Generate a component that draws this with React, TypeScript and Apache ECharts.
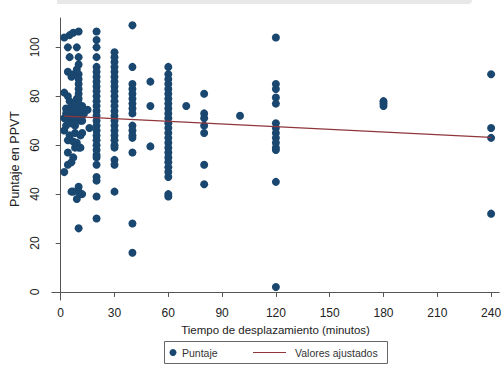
import React, { useEffect, useRef } from "react";
import * as echarts from "echarts";

// Travel time (minutes) and the PPVT scores observed at each time.
const scoresAt2 = [104, 81.5, 71, 66, 49];
const scoresAt3 = [75, 73, 68];
const scoresAt4 = [100, 90, 80, 62, 57, 52];
const scoresAt5 = [105, 96, 78, 74, 72, 70.5, 64];
const scoresAt6 = [88, 76, 69, 53, 41];
const scoresAt7 = [106, 89, 73, 61.5, 55, 41];
const scoresAt8 = [77, 74, 71, 68, 65, 59];
const scoresAt9 = [100, 91, 79, 61, 38];
const scoresAt10 = [106.5, 96, 93, 89, 87, 85, 83, 81, 79, 77, 75, 73, 71, 59, 43, 41, 26];
const scoresAt11 = [70, 64, 59, 40];
const scoresAt12 = [76, 72, 70, 65, 40];
const scoresAt13 = [73];
const scoresAt15 = [74.5];
const scoresAt16 = [67];
const scoresAt20 = [106.5, 103, 100, 96, 92, 90, 88, 86, 84, 82, 80, 78, 76, 74, 72, 70, 68, 66, 64, 62, 60, 58, 56, 55, 52, 47, 45.5, 39, 30];
const scoresAt30 = [98, 96, 94, 92, 90, 88, 86, 84, 82, 80, 78, 76, 74, 72, 70, 68, 66, 64, 62, 60, 59, 54, 52, 41];
const scoresAt40 = [109, 92, 85, 83, 81, 79, 77, 75, 73, 68, 66, 64, 63, 57, 28, 16];
const scoresAt50 = [86, 76, 59.5];
const scoresAt60 = [92, 89, 87, 85, 83, 81, 79, 77, 75, 73, 71, 69, 67, 65, 63, 61, 59, 57, 55, 53, 51, 49, 47, 40, 39];
const scoresAt70 = [76];
const scoresAt80 = [81, 73, 71, 68, 65, 52, 44];
const scoresAt100 = [72];
const scoresAt120 = [104, 85, 83, 79.5, 77, 69, 67, 65, 63, 61, 59, 58, 45, 2];
const scoresAt180 = [78, 77, 76];
const scoresAt240 = [89, 67, 63, 32];

const observations: [number, number[]][] = [
  [2, scoresAt2], [3, scoresAt3], [4, scoresAt4], [5, scoresAt5], [6, scoresAt6], [7, scoresAt7],
  [8, scoresAt8], [9, scoresAt9], [10, scoresAt10], [11, scoresAt11], [12, scoresAt12],
  [13, scoresAt13], [15, scoresAt15], [16, scoresAt16], [20, scoresAt20], [30, scoresAt30],
  [40, scoresAt40], [50, scoresAt50], [60, scoresAt60], [70, scoresAt70], [80, scoresAt80],
  [100, scoresAt100], [120, scoresAt120], [180, scoresAt180], [240, scoresAt240],
];

// Fitted regression line endpoints (minutes, predicted score)
const fittedLine: [number, number][] = [[2, 71.9], [240, 63.2]];

const xTicks = [0, 30, 60, 90, 120, 150, 180, 210, 240];
const yTicks = [0, 20, 40, 60, 80, 100];

const NAVY = "#1a476f";
const MAROON = "#90353b";
const AXIS = "#555555";
const FONT = "'Liberation Sans', Arial, sans-serif";

export default function App() {
  const ref = useRef<HTMLDivElement>(null);

  useEffect(() => {
    if (!ref.current) return;
    const chart = echarts.init(ref.current, undefined, { renderer: "svg" });
    const points: [number, number][] = [];
    observations.forEach(([t, scores]) => scores.forEach((s) => points.push([t, s])));

    chart.setOption({
      animation: false,
      backgroundColor: "#ffffff",
      textStyle: { fontFamily: FONT },
      grid: { left: 46, top: 18, width: 458, height: 282, containLabel: false },
      xAxis: {
        type: "value",
        min: -4.9,
        max: 244.5,
        name: "Tiempo de desplazamiento (minutos)",
        nameLocation: "middle",
        nameGap: 21,
        nameTextStyle: { fontSize: 11.5, color: "#222", fontFamily: FONT },
        axisLine: { show: true, lineStyle: { color: AXIS, width: 1 } },
        axisTick: { show: true, length: 5, lineStyle: { color: AXIS }, customValues: xTicks },
        axisLabel: { customValues: xTicks, fontSize: 12, color: "#222", margin: 7, fontFamily: FONT, showMaxLabel: true },
        splitLine: { show: false },
      },
      yAxis: {
        type: "value",
        min: -3.3,
        max: 112,
        name: "Puntaje en PPVT",
        nameLocation: "middle",
        nameGap: 21,
        nameRotate: 90,
        nameTextStyle: { fontSize: 12.5, color: "#222", fontFamily: FONT },
        axisLine: { show: true, lineStyle: { color: AXIS, width: 1 } },
        axisTick: { show: true, length: 5, lineStyle: { color: AXIS }, customValues: yTicks },
        axisLabel: { customValues: yTicks, fontSize: 12, color: "#222", rotate: 90, margin: 11, fontFamily: FONT },
        splitLine: { show: false },
      },
      series: [
        {
          name: "Puntaje",
          type: "scatter",
          data: points,
          symbol: "circle",
          symbolSize: 8,
          itemStyle: { color: NAVY, opacity: 1 },
        },
        {
          name: "Valores ajustados",
          type: "line",
          data: fittedLine,
          symbol: "none",
          lineStyle: { color: MAROON, width: 1.2 },
          z: 3,
        },
      ],
      graphic: [
        {
          type: "rect",
          shape: { x: 57, y: 0, width: 415, height: 4, r: [0, 0, 4, 0] },
          style: { fill: "#e8e8e8" },
          silent: true,
        },
        {
          type: "group",
          children: [
            {
              type: "rect",
              shape: { x: 164.5, y: 341.5, width: 223, height: 22 },
              style: { fill: "#ffffff", stroke: "#666666", lineWidth: 1 },
            },
            { type: "circle", shape: { cx: 173, cy: 352.5, r: 3.5 }, style: { fill: NAVY } },
            {
              type: "text",
              x: 182,
              y: 352.5,
              style: { text: "Puntaje", fontSize: 10.5, fill: "#333", fontFamily: FONT, verticalAlign: "middle" },
            },
            {
              type: "line",
              shape: { x1: 253, y1: 352.5, x2: 286, y2: 352.5 },
              style: { stroke: MAROON, lineWidth: 1.2 },
            },
            {
              type: "text",
              x: 295,
              y: 352.5,
              style: { text: "Valores ajustados", fontSize: 10.5, fill: "#333", fontFamily: FONT, verticalAlign: "middle" },
            },
          ],
        },
      ],
    });
    return () => chart.dispose();
  }, []);

  return (
    <div
      ref={ref}
      style={{ position: "fixed", left: 0, top: 0, width: 504, height: 367, background: "#fff" }}
    />
  );
}
